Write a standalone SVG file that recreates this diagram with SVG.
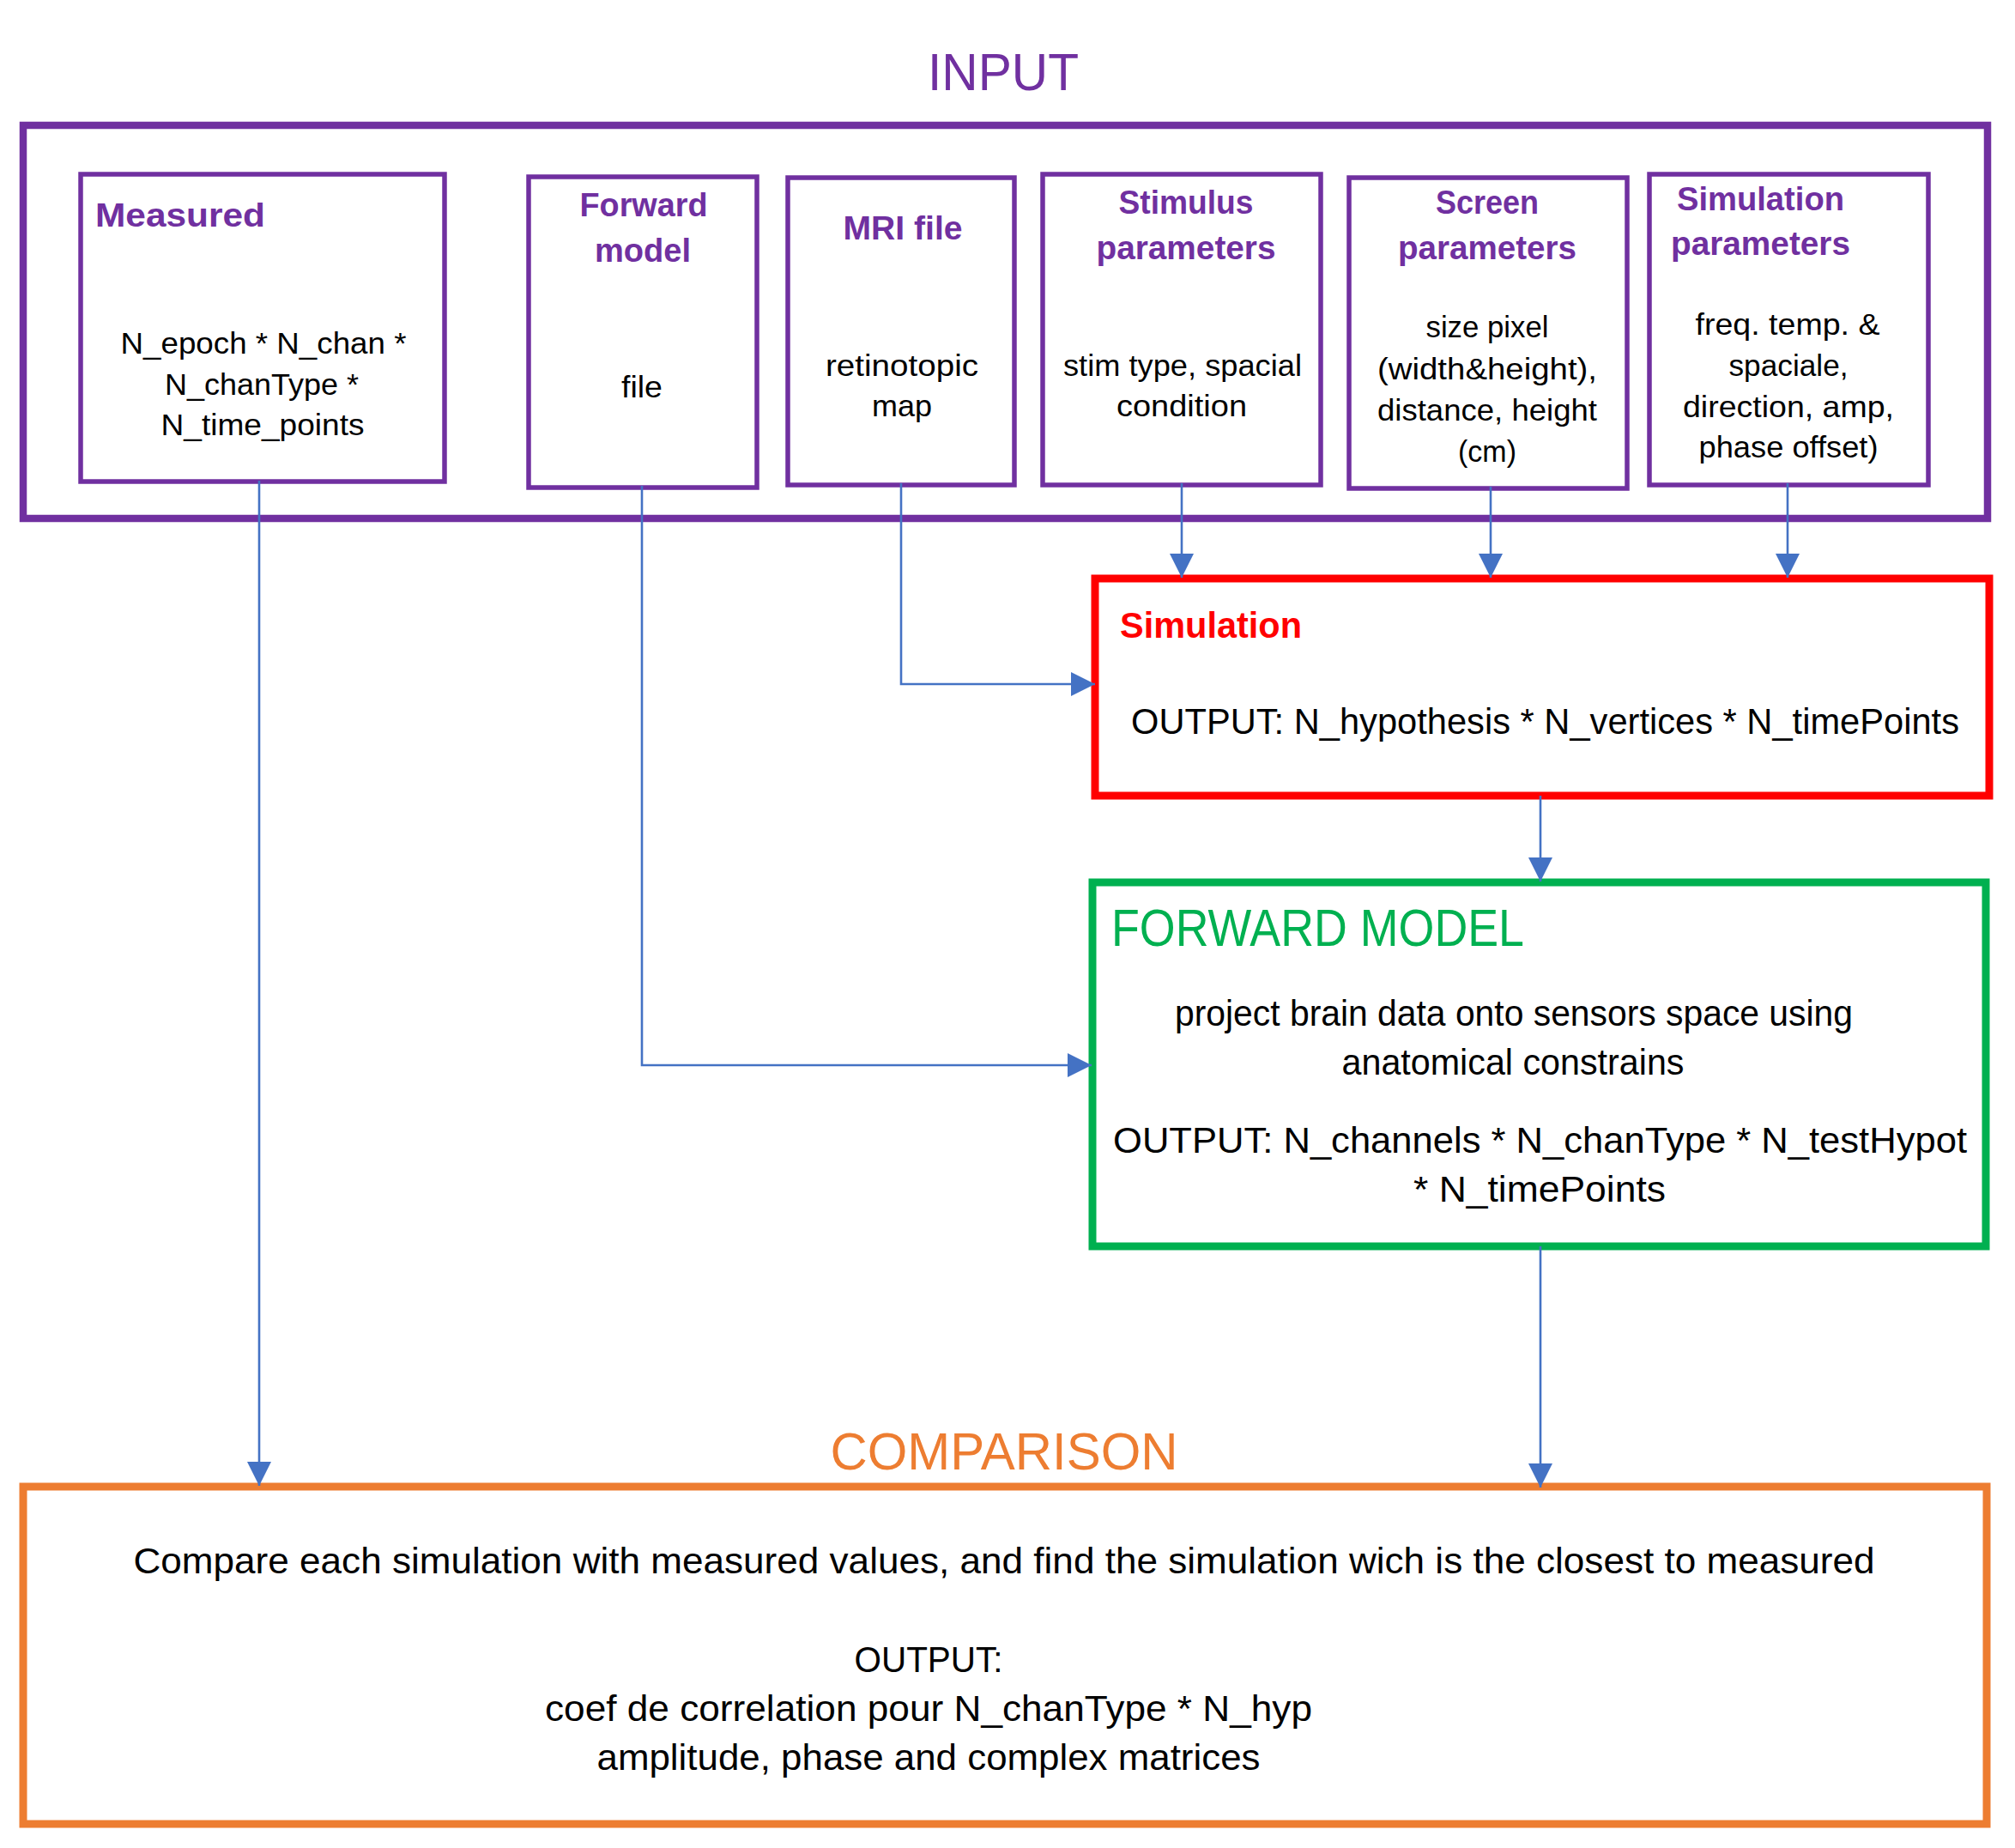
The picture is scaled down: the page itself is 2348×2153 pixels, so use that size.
<svg xmlns="http://www.w3.org/2000/svg" width="2348" height="2153" viewBox="0 0 2348 2153">
<style>
text{font-family:"Liberation Sans",Arial,sans-serif;}
.box{fill:none;}
.pb{stroke:#7030A0;stroke-width:5.5;fill:none;}
.ttl{fill:#7030A0;font-weight:bold;font-size:39px;}
.bd{fill:#000;font-size:35px;}
.big{font-size:62px;}
.bd2{fill:#000;font-size:42px;}
.c{text-anchor:middle;}
.con{fill:none;stroke:#4472C4;stroke-width:2.6;}
</style>
<defs>
<marker id="arr" markerUnits="userSpaceOnUse" markerWidth="28" markerHeight="28" viewBox="0 0 28 28" refX="28" refY="14" orient="auto">
<path d="M0,0 L28,14 L0,28 z" fill="#4472C4"/>
</marker>
</defs>
<rect width="2348" height="2153" fill="#fff"/>

<g id="input">
<text x="1169" y="105" class="big c" fill="#7030A0" textLength="176" lengthAdjust="spacingAndGlyphs">INPUT</text>
<rect x="27" y="146" width="2289" height="458" fill="none" stroke="#7030A0" stroke-width="8.5"/>
</g>

<g id="measured">
<rect x="94" y="203" width="424" height="358" class="pb"/>
<text x="111" y="264" class="ttl" textLength="198" lengthAdjust="spacingAndGlyphs">Measured</text>
<text x="307" y="412" class="bd c" textLength="333" lengthAdjust="spacingAndGlyphs">N_epoch * N_chan *</text>
<text x="305" y="460" class="bd c" textLength="226" lengthAdjust="spacingAndGlyphs">N_chanType *</text>
<text x="306" y="507" class="bd c" textLength="237" lengthAdjust="spacingAndGlyphs">N_time_points</text>
</g>

<g id="forward-model-file">
<rect x="616" y="206" width="266" height="362" class="pb"/>
<text x="750" y="252" class="ttl c" textLength="149" lengthAdjust="spacingAndGlyphs">Forward</text>
<text x="749" y="305" class="ttl c" textLength="112" lengthAdjust="spacingAndGlyphs">model</text>
<text x="748" y="463" class="bd c" textLength="48" lengthAdjust="spacingAndGlyphs">file</text>
</g>

<g id="mri-file">
<rect x="918" y="207" width="264" height="358" class="pb"/>
<text x="1052" y="279" class="ttl c" textLength="139" lengthAdjust="spacingAndGlyphs">MRI file</text>
<text x="1051" y="438" class="bd c" textLength="178" lengthAdjust="spacingAndGlyphs">retinotopic</text>
<text x="1051" y="485" class="bd c" textLength="70" lengthAdjust="spacingAndGlyphs">map</text>
</g>

<g id="stimulus-parameters">
<rect x="1215" y="203" width="324" height="362" class="pb"/>
<text x="1382" y="249" class="ttl c" textLength="157" lengthAdjust="spacingAndGlyphs">Stimulus</text>
<text x="1382" y="302" class="ttl c" textLength="209" lengthAdjust="spacingAndGlyphs">parameters</text>
<text x="1378" y="438" class="bd c" textLength="278" lengthAdjust="spacingAndGlyphs">stim type, spacial</text>
<text x="1377" y="485" class="bd c" textLength="152" lengthAdjust="spacingAndGlyphs">condition</text>
</g>

<g id="screen-parameters">
<rect x="1572" y="207" width="324" height="362" class="pb"/>
<text x="1733" y="249" class="ttl c" textLength="120" lengthAdjust="spacingAndGlyphs">Screen</text>
<text x="1733" y="302" class="ttl c" textLength="208" lengthAdjust="spacingAndGlyphs">parameters</text>
<text x="1733" y="393" class="bd c" textLength="143" lengthAdjust="spacingAndGlyphs">size pixel</text>
<text x="1733" y="442" class="bd c" textLength="256" lengthAdjust="spacingAndGlyphs">(width&amp;height),</text>
<text x="1733" y="490" class="bd c" textLength="256" lengthAdjust="spacingAndGlyphs">distance, height</text>
<text x="1733" y="538" class="bd c" textLength="68" lengthAdjust="spacingAndGlyphs">(cm)</text>
</g>

<g id="simulation-parameters">
<rect x="1922" y="203" width="325" height="362" class="pb"/>
<text x="1954" y="245" class="ttl" textLength="195" lengthAdjust="spacingAndGlyphs">Simulation</text>
<text x="1947" y="297" class="ttl" textLength="209" lengthAdjust="spacingAndGlyphs">parameters</text>
<text x="2083" y="390" class="bd c" textLength="215" lengthAdjust="spacingAndGlyphs">freq. temp. &amp;</text>
<text x="2084" y="438" class="bd c" textLength="139" lengthAdjust="spacingAndGlyphs">spaciale,</text>
<text x="2084" y="486" class="bd c" textLength="246" lengthAdjust="spacingAndGlyphs">direction, amp,</text>
<text x="2084" y="533" class="bd c" textLength="209" lengthAdjust="spacingAndGlyphs">phase offset)</text>
</g>

<g id="simulation">
<rect x="1276" y="674" width="1042" height="253" fill="none" stroke="#FF0000" stroke-width="9"/>
<text x="1305" y="743" fill="#FF0000" font-weight="bold" font-size="43" textLength="212" lengthAdjust="spacingAndGlyphs">Simulation</text>
<text x="1318" y="855" class="bd2" textLength="965" lengthAdjust="spacingAndGlyphs">OUTPUT: N_hypothesis * N_vertices * N_timePoints</text>
</g>

<g id="forward-model">
<rect x="1273" y="1028" width="1041" height="424" fill="none" stroke="#00B050" stroke-width="9"/>
<text x="1295" y="1102" class="big" fill="#00B050" font-size="56" textLength="481" lengthAdjust="spacingAndGlyphs">FORWARD MODEL</text>
<text x="1764" y="1195" class="bd2 c" textLength="790" lengthAdjust="spacingAndGlyphs">project brain data onto sensors space using</text>
<text x="1763" y="1252" class="bd2 c" textLength="399" lengthAdjust="spacingAndGlyphs">anatomical constrains</text>
<text x="1297" y="1343" class="bd2" textLength="995" lengthAdjust="spacingAndGlyphs">OUTPUT: N_channels * N_chanType * N_testHypot</text>
<text x="1794" y="1400" class="bd2 c" textLength="294" lengthAdjust="spacingAndGlyphs">* N_timePoints</text>
</g>

<g id="comparison">
<text x="1170" y="1712" class="big c" fill="#ED7D31" textLength="405" lengthAdjust="spacingAndGlyphs">COMPARISON</text>
<rect x="27" y="1732" width="2288" height="393" fill="none" stroke="#ED7D31" stroke-width="9"/>
<text x="1170" y="1833" class="bd2 c" textLength="2029" lengthAdjust="spacingAndGlyphs">Compare each simulation with measured values, and find the simulation wich is the closest to measured</text>
<text x="1082" y="1948" class="bd2 c" textLength="173" lengthAdjust="spacingAndGlyphs">OUTPUT:</text>
<text x="1082" y="2005" class="bd2 c" textLength="894" lengthAdjust="spacingAndGlyphs">coef de correlation pour N_chanType * N_hyp</text>
<text x="1082" y="2062" class="bd2 c" textLength="773" lengthAdjust="spacingAndGlyphs">amplitude, phase and complex matrices</text>
</g>

<g id="connectors">
<path class="con" d="M302,560 V1731" marker-end="url(#arr)"/>
<path class="con" d="M748,566 V1241 H1272" marker-end="url(#arr)"/>
<path class="con" d="M1050,563 V797 H1276" marker-end="url(#arr)"/>
<path class="con" d="M1377,563 V673" marker-end="url(#arr)"/>
<path class="con" d="M1737,567 V673" marker-end="url(#arr)"/>
<path class="con" d="M2083,563 V673" marker-end="url(#arr)"/>
<path class="con" d="M1795,927 V1027" marker-end="url(#arr)"/>
<path class="con" d="M1795,1452 V1733" marker-end="url(#arr)"/>
</g>
</svg>
